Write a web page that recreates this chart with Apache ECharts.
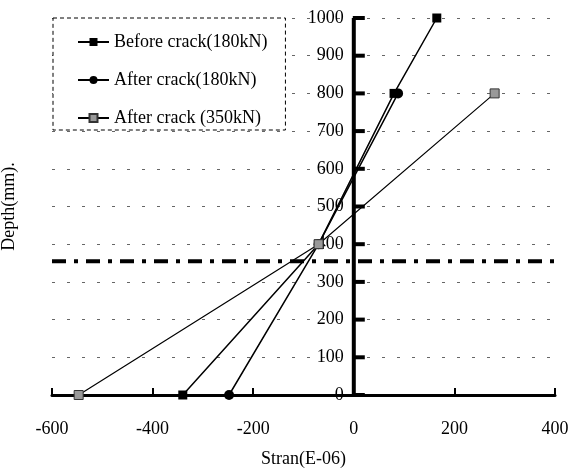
<!DOCTYPE html>
<html>
<head>
<meta charset="utf-8">
<script src="https://cdn.jsdelivr.net/npm/echarts@6/dist/echarts.min.js"></script>
<style>html,body{margin:0;padding:0;background:#fff;}#c{width:571px;height:468px;}</style>
</head>
<body>
<div id="c"></div>
<script>
var seriesNames = ['Before crack(180kN)', 'After crack(180kN)', 'After crack (350kN)'];
var beforeStrain = [-340, -70, 80, 165];
var beforeDepth = [0, 400, 800, 1000];
var after180Strain = [-248, -70, 88];
var after180Depth = [0, 400, 800];
var after350Strain = [-547, -70, 280];
var after350Depth = [0, 400, 800];
var neutralStrain = [-600, 400];
var neutralDepth = [355, 355];
var neutralLabel = 'neutral axis neglecting concrete';
var depthTicks = [0, 100, 200, 300, 400, 500, 600, 700, 800, 900, 1000];
var xTitle = 'Stran(E-06)';
var yTitle = 'Depth(mm).';

function pairs(xs, ys) { return xs.map(function (x, i) { return [x, ys[i]]; }); }

var FONT = '"Liberation Serif", "DejaVu Serif", serif';
var chart = echarts.init(document.getElementById('c'), null, {renderer: 'canvas'});
var neutralData = pairs(neutralStrain, neutralDepth);
neutralData[0] = {value: neutralData[0], label: {show: true, position: 'right', offset: [0, -25], formatter: neutralLabel, color: '#000', fontFamily: FONT, fontSize: 18}};

var yBase = {type: 'value', min: 0, max: 1000, interval: 100, position: 'left'};
chart.setOption({
  animation: false,
  backgroundColor: '#fff',
  textStyle: {fontFamily: FONT},
  grid: {left: 52, right: 16, top: 18, bottom: 73, outerBoundsMode: 'none', containLabel: false},
  legend: {
    data: seriesNames,
    orient: 'vertical',
    left: 53, top: 18,
    padding: [15, 18, 3, 24],
    itemGap: 20,
    itemWidth: 31, itemHeight: 10,
    borderColor: '#000', borderWidth: 1, borderType: [4, 3],
    backgroundColor: '#fff',
    textStyle: {fontFamily: FONT, fontSize: 18, color: '#000', lineHeight: 18}
  },
  xAxis: {
    type: 'value', min: -600, max: 400, interval: 200,
    name: xTitle, nameLocation: 'middle', nameGap: 55,
    nameTextStyle: {fontFamily: FONT, fontSize: 18, color: '#000'},
    axisLine: {show: true, lineStyle: {color: '#000', width: 3}},
    axisTick: {show: true, inside: true, length: 7, lineStyle: {color: '#000', width: 2}},
    axisLabel: {margin: 25, fontFamily: FONT, fontSize: 18, color: '#000'},
    splitLine: {show: false}
  },
  yAxis: [
    Object.assign({}, yBase, {
      offset: 0,
      axisLine: {show: false, onZero: false}, axisTick: {show: false},
      axisLabel: {margin: 10, fontFamily: FONT, fontSize: 18, color: '#000', formatter: function (v) { return String(v); }},
      splitLine: {show: true, lineStyle: {color: '#666', width: 1, type: [3, 12]}}
    }),
    Object.assign({}, yBase, {
      axisLine: {show: false, onZero: false}, axisTick: {show: false}, axisLabel: {show: false},
      splitLine: {show: false},
      name: yTitle, nameLocation: 'middle', nameGap: 34, nameRotate: 90,
      nameTextStyle: {fontFamily: FONT, fontSize: 18, color: '#000'}
    })
  ],
  series: [
    {
      name: 'neutral', type: 'line', data: neutralData, symbol: 'none', silent: true,
      lineStyle: {color: '#000', width: 4, type: [14, 8, 4, 8]}, z: 1
    },
    {
      name: 'depthAxis', type: 'line', data: [[0, depthTicks[0]], [0, depthTicks[depthTicks.length - 1]]],
      symbol: 'none', silent: true, lineStyle: {color: '#000', width: 4}, z: 10
    },
    {
      name: 'depthTicks', type: 'scatter', data: depthTicks.map(function (v) { return [0, v]; }),
      symbol: 'rect', symbolSize: [12, 4], symbolOffset: [5, 0], silent: true, clip: false,
      itemStyle: {color: '#000', opacity: 1}, z: 10
    },
    {
      name: seriesNames[0], type: 'line', data: pairs(beforeStrain, beforeDepth),
      symbol: 'rect', symbolSize: 9,
      lineStyle: {color: '#000', width: 1.5}, itemStyle: {color: '#000'}, z: 3
    },
    {
      name: seriesNames[1], type: 'line', data: pairs(after180Strain, after180Depth),
      symbol: 'circle', symbolSize: 10,
      lineStyle: {color: '#000', width: 1.5}, itemStyle: {color: '#000'}, z: 3
    },
    {
      name: seriesNames[2], type: 'line', data: pairs(after350Strain, after350Depth),
      symbol: 'rect', symbolSize: 9,
      lineStyle: {color: '#000', width: 1.2}, itemStyle: {color: '#999', borderColor: '#333', borderWidth: 1}, z: 3
    }
  ]
});
// place the depth tick labels beside the strain = 0 line using the x scale
var zeroPx = chart.convertToPixel({xAxisIndex: 0}, 0);
var minPx = chart.convertToPixel({xAxisIndex: 0}, -600);
chart.setOption({yAxis: [{offset: -(zeroPx - minPx)}, {}]});
</script>
</body>
</html>
